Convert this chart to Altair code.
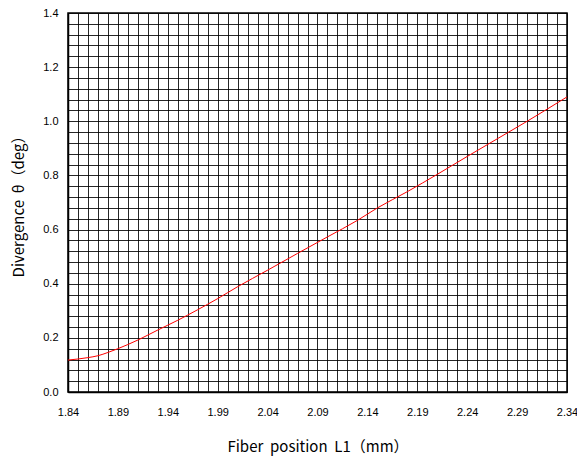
import altair as alt
import pandas as pd

# Data
fiber_position = [1.84, 1.86, 1.87, 1.88, 1.89, 1.91, 1.93, 1.95, 1.97, 1.99, 2.01,
                  2.04, 2.07, 2.10, 2.13, 2.15, 2.18, 2.21, 2.24, 2.27, 2.30, 2.34]
divergence = [0.118, 0.127, 0.134, 0.146, 0.160, 0.192, 0.229, 0.265, 0.304, 0.345, 0.389,
              0.450, 0.512, 0.573, 0.634, 0.680, 0.740, 0.804, 0.870, 0.935, 1.000, 1.090]

x_labels = [1.84, 1.89, 1.94, 1.99, 2.04, 2.09, 2.14, 2.19, 2.24, 2.29, 2.34]
y_labels = [0.0, 0.2, 0.4, 0.6, 0.8, 1.0, 1.2, 1.4]
x_grid = [round(1.84 + 0.01 * i, 2) for i in range(51)]
y_grid = [round(0.04 * i, 2) for i in range(36)]

df = pd.DataFrame({"L1": fiber_position, "theta": divergence})

x_label_expr = "indexof([" + ",".join(f"'{v:.2f}'" for v in x_labels) + "], format(datum.value, '.2f')) >= 0 ? format(datum.value, '.2f') : ''"
y_label_expr = "indexof([" + ",".join(f"'{v:.1f}'" for v in y_labels) + "], format(datum.value, '.1f')) >= 0 && (round(datum.value*100) % 20 == 0) ? format(datum.value, '.1f') : ''"

NB = "\u00a0"
x_title = f"Fiber{NB}{NB}position{NB}{NB}L1（mm）"
y_title = f"Divergence{NB}{NB}θ（deg）"

chart = alt.Chart(df).mark_line(color="#ff0000", strokeWidth=1, interpolate="monotone").encode(
    x=alt.X("L1:Q",
            scale=alt.Scale(domain=[1.84, 2.34], nice=False, zero=False),
            axis=alt.Axis(values=x_grid, labelExpr=x_label_expr, grid=True,
                          gridColor="#000000", gridWidth=1, gridOpacity=0.85,
                          tickSize=0, domainColor="#000000", domainWidth=1.5,
                          labelPadding=14, labelFontSize=11, labelFont="Liberation Sans",
                          labelColor="#000000", labelOverlap=False, labelFlush=False,
                          title=x_title, titleFont="Noto Sans CJK JP",
                          titleFontSize=15, titleFontWeight="normal", titleColor="#000000",
                          titlePadding=22)),
    y=alt.Y("theta:Q",
            scale=alt.Scale(domain=[0, 1.4], nice=False),
            axis=alt.Axis(values=y_grid, labelExpr=y_label_expr,
                          grid=True, gridColor="#000000", gridWidth=1, gridOpacity=0.85,
                          tickSize=0, domainColor="#000000", domainWidth=1.5,
                          labelPadding=10, labelFontSize=11, labelFont="Liberation Sans",
                          labelColor="#000000", labelOverlap=False, labelFlush=False,
                          title=y_title, titleFont="Noto Sans CJK JP",
                          titleFontSize=15, titleFontWeight="normal", titleColor="#000000",
                          titlePadding=16)),
).properties(
    width=499, height=379,
    autosize=alt.AutoSizeParams(type="none"),
    padding={"left": 60, "top": 5, "right": 10, "bottom": 70},
).configure_view(stroke="#000000", strokeWidth=1.5)

chart.save("out.html", embed_options={"renderer": "svg", "actions": False})
